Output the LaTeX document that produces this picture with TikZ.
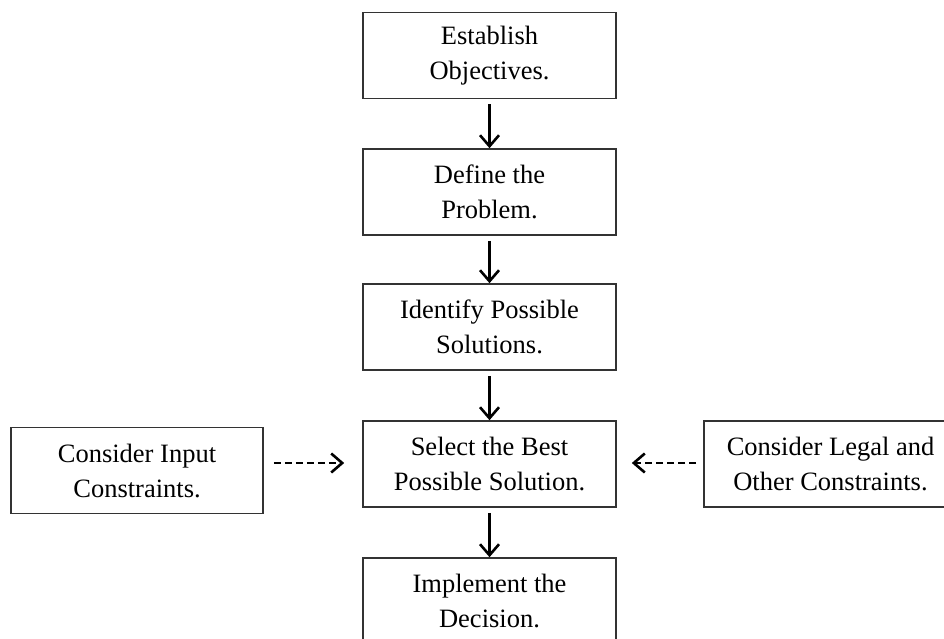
\documentclass[tikz,border=0pt]{standalone}
\usepackage{fontspec}
\setmainfont{Liberation Serif}
\usetikzlibrary{arrows.meta}
\begin{document}
\begin{tikzpicture}[x=1pt,y=-1pt,
    stepbox/.style={draw=black!80,line width=1.6pt,minimum width=253pt,minimum height=86pt,
        align=center,inner sep=0pt,font=\fontsize{26.5}{35}\selectfont},
    flow/.style={line width=2.6pt,-{Straight Barb[length=11pt,width=19pt]}},
    side/.style={flow,dash pattern=on 7pt off 4pt}]
        % 边界
        \useasboundingbox (0,0) rectangle (944,639);

        % 主流程
        \node[stepbox] (obj) at (489.5,55.5) {Establish\\Objectives.};
        \node[stepbox] (prob) at (489.5,192) {Define the\\Problem.};
        \node[stepbox] (sol) at (489.5,327) {Identify Possible\\Solutions.};
        \node[stepbox] (best) at (489.5,464) {Select the Best\\Possible Solution.};
        \node[stepbox] (impl) at (489.5,601) {Implement the\\Decision.};

        % 约束
        \node[stepbox,minimum width=252pt] (input) at (137,470.5) {Consider Input\\Constraints.};
        \node[stepbox] (legal) at (830.5,464) {Consider Legal and\\Other Constraints.};

        % 箭头
        \draw[flow] ([yshift=-5pt]obj.south) -- (prob.north);
        \draw[flow] ([yshift=-5pt]prob.south) -- (sol.north);
        \draw[flow] ([yshift=-5pt]sol.south) -- (best.north);
        \draw[flow] ([yshift=-5pt]best.south) -- (impl.north);
        \draw[side] ([xshift=10pt]input.east |- 0,463) -- ([xshift=-18pt]best.west |- 0,463);
        \draw[side] ([xshift=-7pt]legal.west |- 0,463) -- ([xshift=15pt]best.east |- 0,463);
    \end{tikzpicture}
\end{document}
